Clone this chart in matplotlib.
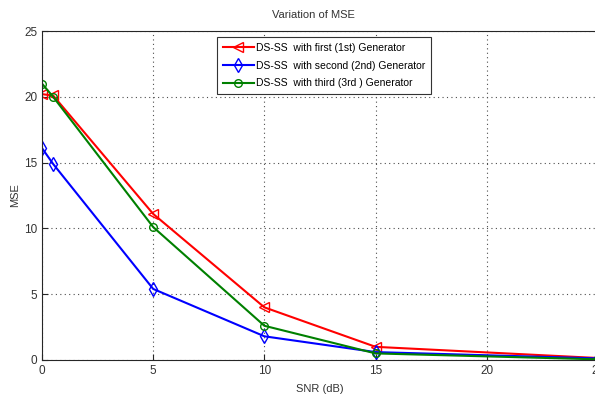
import matplotlib
matplotlib.use("Agg")
import matplotlib.pyplot as plt

plt.rcParams['font.family'] = ['Liberation Sans Narrow', 'Liberation Sans', 'DejaVu Sans']
plt.rcParams['font.size'] = 8

snr = [0, 0.5, 5, 10, 15, 25]
mse_first = [20.2, 20.1, 11.1, 4.0, 1.0, 0.15]
mse_second = [16.1, 14.9, 5.4, 1.8, 0.6, 0.12]
mse_third = [21.0, 20.0, 10.1, 2.6, 0.5, 0.05]

labels = ["DS-SS  with first (1st) Generator",
          "DS-SS  with second (2nd) Generator",
          "DS-SS  with third (3rd ) Generator"]

fig = plt.figure(figsize=(5.95, 3.94), dpi=100)
ax = fig.add_axes([42 / 595, 34 / 394, 556 / 595, 329 / 394])

ax.plot(snr, mse_first, color='red', marker='<', mfc='none', ms=7, lw=1.5, label=labels[0])
ax.plot(snr, mse_second, color='blue', marker='d', mfc='none', ms=7, lw=1.5, label=labels[1])
ax.plot(snr, mse_third, color='green', marker='o', mfc='none', ms=5.5, lw=1.5, label=labels[2])

ax.set_xlim(0, 25)
ax.set_ylim(0, 25)
ax.set_xticks([0, 5, 10, 15, 20, 25])
ax.set_yticks([0, 5, 10, 15, 20, 25])
ax.grid(True, linestyle=(0, (1, 3)), color='0.3', lw=0.8)
ax.tick_params(direction='in', length=4, colors='0.15', labelcolor='0.2', labelsize=8.5)
for sp in ax.spines.values():
    sp.set_color('0.15')

ax.set_xlabel("SNR (dB)", color='0.2', labelpad=5)
ax.set_ylabel("MSE", color='0.2', labelpad=3)
fig.text(313 / 595, 1 - 15 / 394, "Variation of MSE", ha='center', va='center', color='0.2')

leg = ax.legend(loc='upper left', bbox_to_anchor=((217 - 42) / 556, (360 - 37) / 329),
                borderaxespad=0, fontsize=7.5, fancybox=False, framealpha=1,
                edgecolor='0.2', handlelength=3.0, borderpad=0.55,
                labelspacing=0.75, handletextpad=0.2)
leg.get_frame().set_linewidth(0.8)

fig.savefig("out.png", dpi=100)
